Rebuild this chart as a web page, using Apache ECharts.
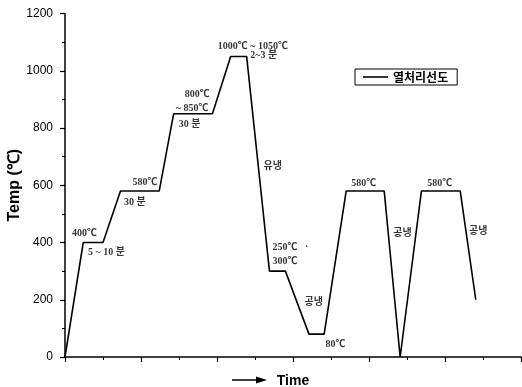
<!DOCTYPE html>
<html>
<head>
<meta charset="utf-8">
<script src="https://cdn.jsdelivr.net/npm/echarts@6/dist/echarts.min.js"></script>
<style>html,body{margin:0;padding:0;background:#fff}#c{width:522px;height:387px}</style>
</head>
<body>
<div id="c"></div>
<script>
// Heat-treatment curve: time (arbitrary units) vs temperature (°C)
const timeValues = [0, 2.4, 5, 7.3, 12.4, 14.3, 19.4, 21.8, 23.9, 26.9, 29, 32.1, 34.1, 37, 42, 44.1, 46.9, 52, 54.05];
const tempValues = [0, 400, 400, 580, 580, 850, 850, 1050, 1050, 300, 300, 80, 80, 580, 580, 0, 580, 580, 200];
const seriesName = '열처리선도';
const yTicks = [0, 200, 400, 600, 800, 1000, 1200];

// Annotation texts and their anchor (left edge, data coords)
const noteTexts = ['400℃', '5 ~ 10 분', '580℃', '30 분', '800℃', '~ 850℃', '30 분', '1000℃ ~ 1050℃', '2~3 분', '유냉', '250℃   ·', '300℃', '공냉', '80℃', '580℃', '580℃', '공냉', '공냉'];
const noteX = [0.92, 3.02, 8.89, 7.75, 15.75, 14.57, 14.97, 20.09, 24.38, 26.13, 27.31, 27.31, 31.51, 34.27, 37.68, 47.66, 43.19, 53.17];
const noteY = [433, 367, 611, 541, 919, 870, 814, 1086, 1055, 667, 384, 335, 192, 45, 608, 608, 433, 440];

const chart = echarts.init(document.getElementById('c'));
const axisStyle = {lineStyle: {color: '#000', width: 1.5}};
chart.setOption({
  animation: false,
  backgroundColor: '#fff',
  grid: {left: 65, right: 1, top: 13.5, bottom: 30, containLabel: false, outerBoundsMode: 'none'},
  legend: {
    data: [{name: seriesName, icon: 'path://M0 0H25V1.6H0Z'}],
    left: 355, top: 69,
    borderColor: '#000', borderWidth: 1,
    padding: [2, 9, 2, 8],
    itemWidth: 25, itemHeight: 14, itemGap: 5,
    textStyle: {fontFamily: 'Noto Sans CJK KR', fontWeight: 'bold', fontSize: 12, color: '#000'}
  },
  xAxis: {
    type: 'value', min: 0, max: 60, interval: 10,
    axisLine: axisStyle,
    axisTick: {show: true, length: 5, lineStyle: {color: '#000', width: 1.2}},
    minorTick: {show: true, splitNumber: 2, length: 3, lineStyle: {color: '#000', width: 1}},
    axisLabel: {show: false},
    splitLine: {show: false},
    name: 'Time', nameLocation: 'middle', nameGap: 17,
    nameTextStyle: {fontFamily: 'Liberation Sans', fontWeight: 'bold', fontSize: 14, color: '#000'}
  },
  yAxis: {
    type: 'value', min: 0, max: 1200, interval: 200,
    axisLine: axisStyle,
    axisTick: {show: true, length: 5, lineStyle: {color: '#000', width: 1.2}},
    minorTick: {show: true, splitNumber: 2, length: 3, lineStyle: {color: '#000', width: 1}},
    axisLabel: {margin: 12, fontFamily: 'Liberation Sans', fontSize: 12, color: '#000',
      formatter: v => yTicks.includes(v) ? String(v) : ''},
    splitLine: {show: false},
    name: 'Temp (℃)', nameLocation: 'middle', nameGap: 42, nameMoveOverlap: false,
    nameTextStyle: {fontFamily: 'Liberation Sans', fontWeight: 'bold', fontSize: 16, color: '#000'}
  },
  graphic: [
    {type: 'line', shape: {x1: 232, y1: 380, x2: 259, y2: 380}, style: {stroke: '#000', lineWidth: 1.5}},
    {type: 'polygon', shape: {points: [[256, 376.5], [267, 380], [256, 383.5]]}, style: {fill: '#000'}}
  ],
  series: [
    {
      name: seriesName, type: 'line', symbol: 'none',
      lineStyle: {color: '#000', width: 1.6},
      itemStyle: {color: '#000'},
      data: timeValues.map((t, i) => [t, tempValues[i]])
    },
    {
      name: 'notes', type: 'scatter', symbolSize: 0, silent: true,
      data: noteTexts.map((s, i) => ({name: s, value: [noteX[i], noteY[i]]})),
      label: {show: true, position: [0, 0], align: 'left', verticalAlign: 'middle',
        formatter: p => p.name,
        fontFamily: 'Liberation Serif, Noto Sans CJK KR', fontWeight: 'bold', fontSize: 10, color: '#000'}
    }
  ]
});
</script>
</body>
</html>
